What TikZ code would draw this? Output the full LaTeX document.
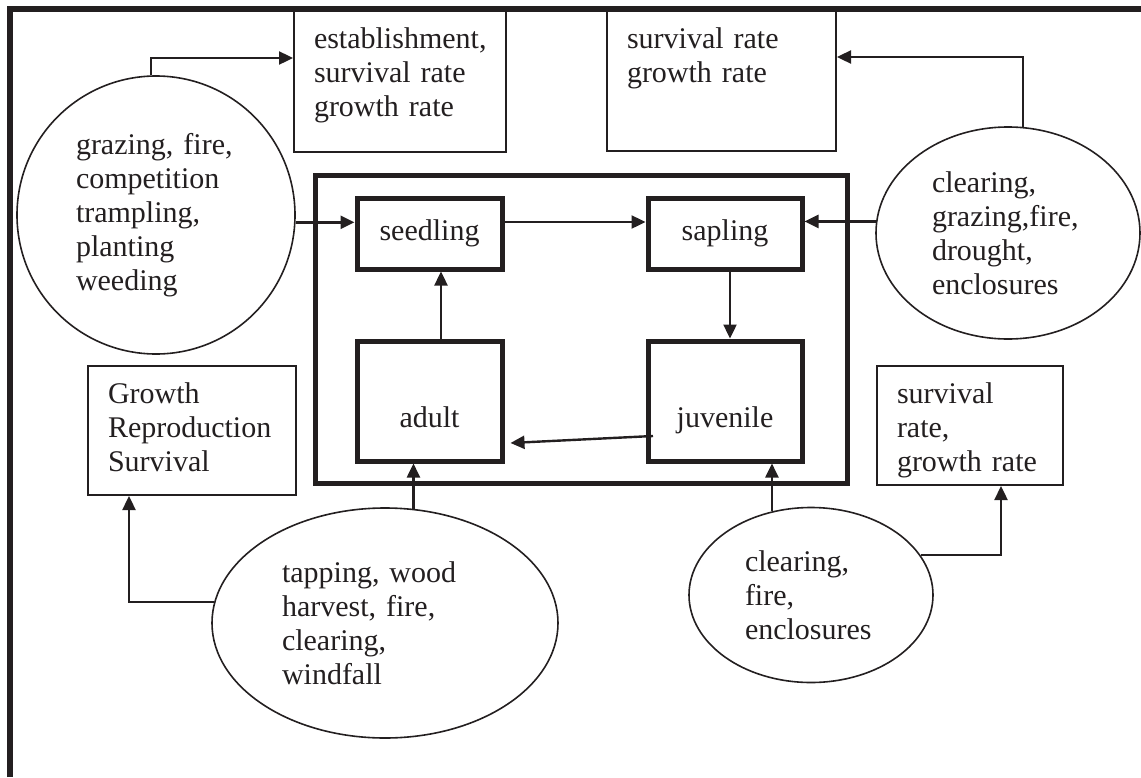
\documentclass[tikz,border=0pt]{standalone}
\usepackage{fontspec}
\setmainfont{Liberation Serif}
\usetikzlibrary{arrows.meta,shapes.geometric}
\definecolor{ink}{RGB}{35,31,32}
\tikzset{
	frameline/.style={draw=ink, line width=2.6pt},
	stagebox/.style={draw=ink, line width=2.5pt, rectangle, inner sep=0pt, text=ink},
	infobox/.style={draw=ink, line width=1pt, rectangle, anchor=north west, align=left, inner xsep=10pt, inner ysep=0pt, text height=18.5pt, text=ink},
	factor/.style={draw=ink, line width=0.8pt, ellipse, inner sep=0pt, align=left, text=ink},
	arr/.style={draw=ink, line width=1.2pt, -{Triangle[length=7pt,width=6.5pt]}}
}

\begin{document}
\begin{tikzpicture}[x=0.5pt, y=-0.5pt, font=\fontsize{15}{17}\selectfont]
			%%%%% START %%%%%
			
			\useasboundingbox (0,0) rectangle (1141,777);
			
			\draw[frameline, line join=miter] (10,777) -- (10,9) -- (1141,9);
			\draw[frameline, line width=2.5pt] (315,175) rectangle (847,483);
			
			\node[stagebox, minimum width=72.5pt, minimum height=35.5pt] (seedling) at (429.5,233.5) {seedling};
			\node[stagebox, minimum width=77pt, minimum height=35.5pt] (sapling) at (725,233.5) {sapling};
			\node[stagebox, minimum width=72.5pt, minimum height=60pt, text height=30pt, text depth=4pt] (adult) at (429.5,401) {adult};
			\node[stagebox, minimum width=77pt, minimum height=60pt, text height=30pt, text depth=4pt] (juvenile) at (725,401) {juvenile};
			
			\node[infobox, text width=86pt, text depth=52pt] (estab) at (293,10) {establishment,\\survival rate\\growth rate};
			\node[infobox, text width=94.5pt, text depth=51.5pt] (survgrow) at (606,10) {survival rate\\growth rate};
			\node[infobox, text width=84pt, text depth=46pt] (growth) at (87,365) {Growth\\Reproduction\\Survival};
			\node[infobox, text width=73pt, text depth=41pt] (survrate) at (876,365) {survival\\rate,\\growth rate};
			
			\node[factor, circle, minimum size=139pt, text width=80pt] (graze) at (156,215) {grazing, fire,\\competition\\trampling,\\planting\\weeding};
			\node[factor, minimum width=132pt, minimum height=106pt, text width=76pt] (clear) at (1008,233) {clearing,\\grazing,fire,\\drought,\\enclosures};
			\node[factor, minimum width=173pt, minimum height=115pt, text width=103pt] (tap) at (385,623) {tapping, wood\\harvest, fire,\\clearing,\\windfall};
			\node[factor, minimum width=122pt, minimum height=87.5pt, text width=66pt] (encl) at (811,595) {clearing,\\fire,\\enclosures};
			
			\draw[arr] (graze.92) |- ([yshift=11.75pt]estab.west);
			\draw[arr] (graze.357) -- (graze.357 -| seedling.west);
			\draw[arr] ([yshift=5.75pt]seedling.east) -- ([yshift=5.75pt]sapling.west);
			\draw[arr] (clear.175) -- (clear.175 -| sapling.east);
			\draw[arr] (clear.82) |- ([yshift=12pt]survgrow.east);
			
			\draw[arr] ([xshift=5.75pt]adult.north) -- ([xshift=5.75pt]seedling.south);
			\draw[arr] ([xshift=2.5pt]sapling.south) -- ([xshift=2.5pt]juvenile.north);
			\draw[arr] ([shift={(3.75pt,-17.5pt)}]juvenile.west) -- ([shift={(3pt,-21pt)}]adult.east);
			
			\draw[arr] (tap.76) -- (tap.76 |- adult.south);
			\draw[arr] (tap.173) -| ([xshift=-31.5pt]growth.south);
			\draw[arr] (encl.115) -- (encl.115 |- juvenile.south);
			\draw[arr] (encl.20) -| ([xshift=15.5pt]survrate.south);
			
			%%%%% END %%%%%
\end{tikzpicture}
\end{document}
